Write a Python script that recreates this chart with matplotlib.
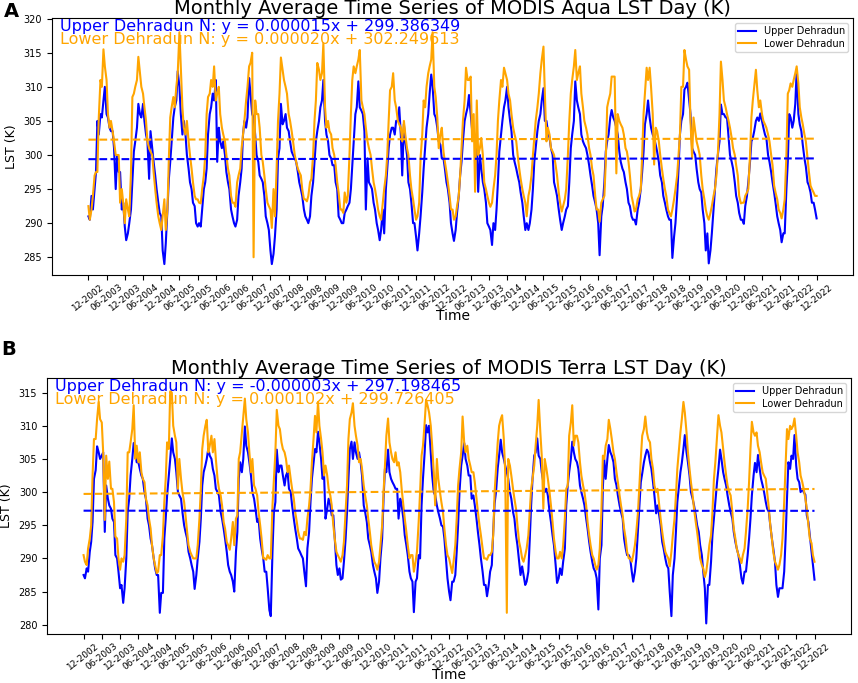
import numpy as np
import pandas as pd
import matplotlib
matplotlib.use("Agg")
import matplotlib.pyplot as plt

# semi-monthly samples from 1 Dec 2002 to 1 Dec 2022, one line = Dec..Nov of a year
aqua_upper = [
    291, 290.5, 294, 292, 295, 297.5, 305, 303, 306, 305.5, 308, 310, 306, 305.5, 304, 303.5, 303.5, 301, 295, 300, 297.5, 297.5, 292, 293,
    289.5, 287.5, 288.5, 290, 292, 296, 300.5, 302, 304, 307.5, 306, 305.5, 307.5, 305, 303, 302, 296.5, 303.5, 301, 299, 297, 295, 293, 291.5,
    291, 286, 284, 287, 292, 296.5, 299, 302, 305.5, 307, 308, 312.3, 310, 306, 303, 305, 303, 300, 298, 296, 295, 293, 292.5, 290,
    289.5, 290, 289.5, 292, 295, 296, 298, 303, 306, 307, 309, 308, 311, 299, 304, 302, 301, 302, 300, 297.5, 296, 295, 292, 291,
    290, 289.5, 290.5, 294, 296, 298, 303, 305, 304, 305.5, 311.3, 309, 306, 305.5, 303, 300, 299, 297, 296.5, 296, 294, 291, 290, 289,
    286, 284, 285.5, 288, 292, 299.5, 301, 307.5, 304.5, 305, 306, 304, 303.5, 302, 300.5, 300, 299.5, 299, 297.5, 296, 295, 294, 292, 291,
    290.5, 290, 291, 294, 296, 299, 302, 303.5, 305, 307, 308, 311, 305, 303, 302, 300, 299.5, 298.5, 298.5, 296, 295, 291, 290.5, 290,
    290, 291.5, 292, 292.5, 293, 295, 298.5, 302, 306, 307, 310.8, 307, 306.5, 306, 303.5, 292, 299.5, 296, 295.5, 295, 293, 292, 290, 289,
    287.5, 289, 292, 288.5, 295, 298, 301, 303, 304, 304, 303, 305, 305, 307, 303, 297, 304.5, 302, 300, 296, 295, 293, 290, 290,
    288, 286, 288.5, 291, 294.5, 298, 301, 304, 306, 309, 311.8, 310, 306, 305.5, 304, 302, 301.5, 299.5, 299.5, 298, 296, 295, 293, 290,
    288.5, 287.4, 289, 291.5, 294, 297, 299, 302, 305, 306, 307, 308.8, 306, 303.7, 303.5, 302, 301.3, 294.6, 300, 298, 296, 295, 293, 290,
    289.5, 289, 286.8, 290, 289, 292, 296, 300.5, 303, 305, 307, 308, 310, 307, 305, 303.5, 300, 299, 298, 297, 296, 294.5, 293, 291,
    289, 290, 289, 290, 292, 295, 299, 301, 303.5, 305, 306, 308, 309.8, 305, 305, 303.5, 302.5, 301, 300, 296, 295, 294, 292, 290.5,
    289, 290, 291, 292, 292.5, 296, 301, 303, 305, 310.8, 308, 307, 306, 303, 302, 301.5, 301, 300, 298.5, 297, 295.5, 294, 293, 292,
    290, 285.3, 291, 292.5, 296, 300.5, 302, 303, 305.5, 306.6, 305.5, 305, 304, 303, 300.5, 299, 298, 297.5, 296, 295, 293, 292.5, 291, 290.5,
    290.5, 289.8, 292, 293, 295, 297.5, 300.5, 304.5, 306, 308, 305.5, 304, 303, 302.5, 301.5, 300.5, 299, 297, 296, 294, 293, 292, 291, 290.5,
    290.5, 284.9, 288, 290, 294, 298, 303, 305, 306, 309.6, 310, 310.6, 308, 306, 301, 300.5, 300, 298, 296, 295, 294.5, 292, 290, 286,
    288.5, 284.1, 286, 288.5, 292, 295, 298, 300, 302, 307.4, 306, 306, 305.5, 305.5, 302.5, 300, 299, 298, 296, 294, 293, 291.5, 290.5, 290.5,
    289.9, 292.5, 294, 296, 299, 302, 302.5, 303.5, 305, 305.5, 305, 306.1, 305, 304, 303, 302.5, 300, 299, 297.5, 296, 294.5, 293, 291, 290,
    289, 287.2, 288.5, 288.5, 295, 299, 306, 305.5, 304, 305, 307.5, 312.3, 306, 304.5, 303.5, 301.5, 299.5, 298.3, 296, 295.5, 294.5, 293, 293, 292,
    290.7,
]

aqua_lower = [
    292.5, 290.5, 292, 294, 297, 297.5, 297.5, 305.5, 311, 310, 315.5, 313, 311, 306, 304, 305, 303.5, 302, 300, 300, 300, 293, 295, 293,
    290, 293.5, 292, 291, 297.5, 308.5, 309, 310, 311, 314.4, 312, 310, 309, 307, 305, 302, 301, 300.5, 300, 297.5, 295, 293, 291, 290,
    289, 291, 293.5, 289, 292, 299.5, 305.5, 307, 308.5, 307, 310, 312, 318, 313, 307, 304, 303, 305, 302, 300, 298, 296, 294, 293.5,
    293.5, 293, 292.9, 295, 297, 300, 306, 308.5, 309, 311, 310, 313, 308, 309, 310, 306, 304, 303, 302, 300, 298, 297, 294, 293,
    293, 292.4, 296, 297, 298, 301, 303, 305, 308, 310, 313, 313.5, 315, 285, 308, 306, 306, 304, 300, 299, 297, 295, 293, 292.5,
    292, 289.3, 295, 291, 298, 305, 309, 314.3, 312.5, 311, 310, 309, 306, 305, 303.5, 302, 300, 299, 298, 297.5, 297, 295, 293.5, 293.5,
    293.2, 294, 296, 296.5, 300, 305, 308, 313.5, 312.5, 311, 312, 316.4, 307, 304, 305, 303.5, 303, 301, 300, 298.5, 296, 294.5, 292, 292,
    291.5, 294.5, 293, 294, 300, 306, 311, 313, 312, 313, 314, 315.4, 308, 307, 306, 304, 302, 301, 300, 298, 296, 295, 293.5, 292,
    291, 290.5, 293, 295, 297, 300, 305, 309.5, 310, 312, 308, 307, 305, 304.5, 304, 302, 305, 303, 301, 300, 297, 295, 293.5, 292,
    290.5, 291, 293, 299.5, 303, 308, 307, 310, 312, 313, 314, 318, 310, 308.5, 305.5, 301, 303, 304, 300.5, 299, 297.5, 296, 294, 292,
    292, 290.5, 291, 292.5, 294, 297, 301, 305, 308, 312.8, 311, 311, 311.5, 302, 306, 294.6, 308, 300, 301, 302.5, 300, 296, 295, 294,
    293, 292.4, 293, 295, 297, 300, 305, 308, 311, 310, 312.8, 312, 311, 309, 308, 306, 304, 303, 302, 300, 298, 296.5, 295, 294,
    293, 291, 294, 295, 297, 300, 302.5, 305, 307, 309, 312, 314, 315.9, 309, 302, 304, 303, 301, 300.5, 300, 298.5, 297, 294.5, 293,
    291.7, 292.5, 293.5, 295, 300, 305, 309, 311, 313, 315.4, 311, 312, 313, 309, 307, 305, 304, 303, 301, 300, 298, 297, 294, 292,
    292, 290.2, 293, 293.5, 294, 299, 307, 308, 309, 311.5, 311.5, 311.5, 297.3, 306, 305, 304.5, 304, 303, 301, 300.5, 299, 297, 294, 293,
    291.7, 292, 293.5, 294, 295, 300, 306, 309, 312.8, 311, 312.8, 310, 306, 298.6, 304, 303.5, 302, 300, 298, 296.5, 295, 294, 292, 291.5,
    291, 292, 293.5, 295, 297, 300, 303, 310, 310, 315.4, 314, 313, 312.5, 305, 299.5, 305.5, 303.5, 302, 301, 300, 297, 295, 293.5, 292,
    291, 290.5, 291.5, 292.5, 294, 295, 297, 300, 306, 313.7, 311, 308, 307, 306, 305, 304, 302.5, 301, 300, 298.5, 297, 294, 292.9, 293,
    293, 294, 294.5, 295, 300, 305.5, 308, 310, 312.5, 309.5, 307, 308, 306, 305, 304.5, 304, 303, 302, 300, 298.5, 295.5, 294.5, 293.5, 292,
    291.5, 290.7, 292, 293.5, 300, 309, 309.5, 310.5, 310, 311, 312, 313, 310.5, 307, 305.5, 304.5, 303, 302, 299.5, 297.5, 295.5, 295, 294.5, 294,
    294,
]

terra_upper = [
    287.5, 287, 288.5, 288, 291, 292.5, 295.5, 302, 303.3, 306.9, 306, 305, 305.5, 306, 294, 301, 299, 298, 297.5, 296, 295.5, 290.5, 290, 288,
    285.5, 286, 283.3, 285.5, 290, 297, 299, 302.5, 305, 307.4, 306, 304.5, 304.5, 303.5, 302.5, 302, 300, 299, 296, 295, 293, 292, 290, 288.5,
    287.5, 287.5, 281.8, 284.8, 284.8, 293, 296, 299.5, 302.5, 305, 308.1, 306, 305, 303, 300, 299.5, 299, 297, 295, 294, 293, 291, 290, 289,
    288, 285.4, 287.5, 290, 292.5, 296, 301, 303, 304, 305, 306.6, 305.5, 305, 303.5, 302.5, 300.5, 300, 299.5, 297, 296, 294.5, 293, 291, 289,
    288, 287.5, 286.5, 285, 291, 294, 302, 304.5, 303, 305, 309.9, 307, 306, 304.5, 302.5, 300, 299, 297.5, 295.5, 296, 293, 291.5, 290, 288,
    288, 285.5, 282.2, 281.3, 291, 297, 298.5, 306.4, 303, 304, 304, 302.5, 301, 302.5, 303, 300.5, 300, 298, 296, 294.5, 293, 291.5, 291, 290.5,
    290, 288, 285.8, 291.5, 294, 298.5, 302, 304, 306.5, 306, 309.1, 307.5, 305, 302, 302.5, 296, 297.5, 299, 298, 296.5, 296.5, 293, 289, 287.5,
    288.5, 286.8, 287, 289.5, 293, 297, 302, 306.5, 307.6, 305, 307.5, 306, 305, 306, 304.5, 302.5, 298, 297, 295.5, 293, 292, 291, 289, 288,
    287, 284.8, 286.5, 290, 293, 299, 303.5, 303, 306.4, 303, 302, 301.5, 301, 300.5, 300.5, 296, 299, 298, 296, 293.5, 292, 290.5, 288, 287,
    286.5, 281.9, 286.5, 287, 290.5, 290, 298, 302, 306, 310.1, 309, 310, 306, 302.5, 300, 299.5, 298, 297, 296, 295, 294.8, 293, 289.8, 287,
    285, 283.7, 286.5, 286.5, 287.5, 291, 295, 300, 304, 305.5, 307.4, 305, 304, 302.5, 302.5, 299, 299.5, 298, 296, 294, 292, 290, 288, 286,
    286, 284.3, 286, 288, 289, 294, 298.3, 300, 303.6, 305.5, 307.9, 306, 305, 304, 303, 302, 300, 299, 297, 296, 293.5, 292, 289.5, 287.5,
    288.8, 287.5, 286, 286.5, 288, 292.8, 298, 302, 305.5, 306, 308.1, 305.5, 305, 303, 301.5, 300, 300.5, 299.5, 297, 295.5, 293.5, 292, 289, 286.3,
    287, 288.5, 287.5, 289.5, 291.5, 298, 301, 303, 305, 307.6, 306, 305, 304.5, 303.5, 301, 300, 299, 298, 296, 294.5, 292.5, 291, 289.5, 288.5,
    288, 287, 282.3, 290, 292, 300.8, 304.9, 302, 305, 307.1, 306, 305.5, 304.5, 302, 301, 299.5, 298, 297, 296, 293, 291.5, 290.5, 290.5, 290,
    288, 286.5, 288, 290, 294.3, 298, 301.5, 302.8, 304.5, 305.5, 306.4, 306, 304.5, 303.5, 301.5, 299.5, 296.8, 298, 296.5, 295, 292.5, 291.5, 290, 289,
    288.5, 285, 281.3, 287.5, 290, 294, 298.5, 300.5, 303, 304.4, 306.5, 308.6, 306, 304.5, 302.5, 300, 299, 298, 296.5, 295, 294, 292, 290.5, 288,
    285.5, 280.2, 286, 286, 289.5, 293.5, 296, 298.5, 301.5, 303.5, 306.4, 305, 303, 302, 301, 299.5, 298, 297, 296, 294, 292.5, 291.5, 290.5, 289,
    287, 286.2, 288, 288, 290.5, 293, 296, 299.5, 302.5, 304.4, 303, 305.6, 303.5, 302, 301, 300, 298.5, 297.5, 297, 295, 293, 291.5, 289.5, 286,
    284.2, 285.5, 285.5, 285.5, 288, 293, 299, 304.5, 303.5, 305.5, 305, 308.6, 304, 302, 301.5, 300, 300.5, 300, 299.6, 296.5, 295.5, 293.5, 291, 289,
    286.8,
]

terra_lower = [
    290.5, 289.5, 289, 291.5, 293, 295, 302.5, 308, 308, 311, 313.6, 311, 310.5, 306, 295.8, 305.5, 302, 304.6, 300.5, 300.5, 298.5, 293.3, 293, 290,
    288.3, 290, 289.5, 290.5, 296, 306, 306, 307.5, 309.5, 313.1, 305, 307, 304.5, 306, 303, 302, 301.5, 299, 298, 296, 294.5, 292, 290, 289,
    287.8, 288, 290.5, 290.5, 293.5, 298.5, 302, 307.5, 306.5, 315.2, 315, 310, 308.5, 307.5, 300.5, 305, 302, 300, 298.5, 296.5, 294, 292, 291, 290.5,
    290, 290, 290, 292, 296, 300.5, 306.5, 308.5, 310, 310.9, 306, 307, 308.5, 306, 308, 305, 302, 300.5, 299.5, 298, 295.5, 294.5, 292.5, 292,
    291.3, 293, 295.5, 292, 296, 296.5, 305, 306, 309, 311.5, 314.1, 311, 309, 306, 303, 305, 301, 300.5, 299.5, 297, 295, 293, 290, 290,
    289.8, 290.5, 290, 290, 298, 302, 306, 312.4, 310, 309.5, 307.5, 306.5, 306, 305, 303, 304, 302, 300.5, 299, 297, 295.5, 294, 293, 293,
    292.8, 294, 293.5, 296, 298, 300.5, 304.5, 307.5, 311.5, 309, 313.6, 310, 308, 306, 302.5, 304, 302.5, 300.5, 299.5, 298, 295, 293, 291, 290.5,
    290, 289.5, 290.5, 292.5, 297, 301, 308, 311, 312, 313.4, 310, 308.5, 307, 304.5, 305, 303.5, 301, 299.5, 298, 296, 294, 292, 290.5, 289.5,
    289, 288.3, 289.5, 292, 295, 300, 304, 308.5, 311.1, 307.5, 306, 305, 304.5, 306, 304, 304.5, 303, 300.5, 298, 296, 294, 292, 290, 290.5,
    290.5, 288, 289.5, 291, 295.5, 300, 305.5, 307, 310.5, 313.9, 313, 312, 310, 307, 303, 298, 305, 302, 300, 298.5, 297, 294.5, 292, 290.5,
    290, 289, 287.8, 289.5, 292, 296, 301, 303.5, 306, 311.4, 307.5, 306, 307, 305, 304, 303, 303, 301.5, 299, 297, 295, 293.5, 291.5, 290,
    290, 289.8, 290.5, 290.5, 291, 293.5, 300, 303.5, 307.5, 310, 311, 311.6, 308, 303, 281.8, 305, 304, 302.5, 300.5, 299, 297.5, 295, 292.5, 291.5,
    290, 289.5, 290.5, 291.5, 293.5, 297, 300.5, 302, 304, 307, 310, 313.9, 309, 305.5, 297.5, 305, 303.5, 302, 300, 298, 295.5, 293, 291, 290,
    290, 291, 290, 292, 296, 300.5, 301, 308.5, 310.5, 313.1, 307, 308.5, 308.5, 307.5, 304.5, 302.5, 301, 300, 298, 295.5, 293.5, 292, 290.5, 290,
    289, 288.3, 289, 291.5, 297.5, 305.5, 305, 307, 308, 310.9, 309.5, 308, 306, 305, 303, 301.5, 299.5, 298, 296.5, 294.5, 293, 291, 290, 290,
    289.5, 290.5, 292, 294, 297, 301, 305, 308.5, 309.5, 311.4, 309, 308, 307.5, 305, 303.5, 301, 300, 300.5, 298, 296, 294, 292.5, 291, 290.5,
    290, 288.8, 291, 293.5, 296, 299.5, 303.5, 306, 309, 311, 313.6, 312, 309, 306, 303.5, 301.5, 299.5, 297.5, 295.5, 294, 292, 290, 289, 288.5,
    287.2, 288, 290, 292, 293.5, 297, 302, 304.5, 308.5, 311.6, 310, 309, 306.5, 304.5, 302.5, 301, 300, 299.5, 297, 294.5, 293, 291.5, 290.5, 290,
    289.3, 290.5, 291.5, 294, 297.5, 301.5, 306.5, 310.6, 309, 308.5, 309, 307, 306, 304.5, 303, 302.5, 302, 300, 297.5, 295, 293, 291, 289.5, 289,
    288.3, 289, 290.5, 293, 298.5, 304, 309.5, 308, 310, 309.5, 310, 311.1, 308.5, 306, 304.5, 302.5, 301.5, 300.5, 299, 297.5, 295, 293, 292.3, 290.5,
    289.5,
]

# linear fits (slope per day, intercept) as printed on the chart
aqua_slopes = [0.000015, 0.000020]
aqua_intercepts = [299.386349, 302.249613]
terra_slopes = [-0.000003, 0.000102]
terra_intercepts = [297.198465, 299.726405]

dates = pd.date_range("2002-12-01", "2022-12-01", freq="SMS")
tick_dates = pd.date_range("2002-12-01", "2022-12-01", freq="6MS")
days = (dates - dates[0]).days.values

for s in (aqua_upper, aqua_lower, terra_upper, terra_lower):
    assert len(s) == len(dates), (len(s), len(dates))


def draw_panel(ax, upper, lower, slopes, intercepts, title, ylim):
    ax.plot(dates, upper, color="blue", lw=1.5, label="Upper Dehradun")
    ax.plot(dates, lower, color="orange", lw=1.5, label="Lower Dehradun")
    ax.plot(dates, slopes[0] * days + intercepts[0], color="blue", ls="--", lw=1.5)
    ax.plot(dates, slopes[1] * days + intercepts[1], color="orange", ls="--", lw=1.5)

    ax.text(0.01, 0.95, f"Upper Dehradun N: y = {slopes[0]:.6f}x + {intercepts[0]:.6f}",
            color="blue", fontsize=11.5, transform=ax.transAxes)
    ax.text(0.01, 0.90, f"Lower Dehradun N: y = {slopes[1]:.6f}x + {intercepts[1]:.6f}",
            color="orange", fontsize=11.5, transform=ax.transAxes)

    ax.set_title(title, fontsize=14, pad=1)
    ax.set_xlabel("Time", fontsize=10)
    ax.xaxis.set_label_coords(0.5, -0.133)
    ax.set_ylabel("LST (K)", fontsize=9)
    ax.set_ylim(*ylim)
    ax.set_xticks(tick_dates)
    ax.set_xticklabels([d.strftime("%m-%Y") for d in tick_dates], rotation=38, fontsize=6.5)
    ax.tick_params(axis="x", pad=2)
    ax.tick_params(axis="y", labelsize=7)
    ax.legend(loc="upper right", fontsize=7, labelspacing=0.25, borderpad=0.35,
              handlelength=1.8)


fig = plt.figure(figsize=(8.58, 6.83), dpi=100)
ax_a = fig.add_axes([0.0606, 0.5974, 0.9336, 0.3763])
ax_b = fig.add_axes([0.0548, 0.0717, 0.9371, 0.3748])

draw_panel(ax_a, aqua_upper, aqua_lower, aqua_slopes, aqua_intercepts,
           "Monthly Average Time Series of MODIS Aqua LST Day (K)", (282.4, 320.1))
draw_panel(ax_b, terra_upper, terra_lower, terra_slopes, terra_intercepts,
           "Monthly Average Time Series of MODIS Terra LST Day (K)", (278.6, 317.2))

fig.text(0.004, 0.975, "A", fontsize=14, fontweight="bold")
fig.text(0.002, 0.48, "B", fontsize=14, fontweight="bold")

fig.savefig("out.png", dpi=100)
